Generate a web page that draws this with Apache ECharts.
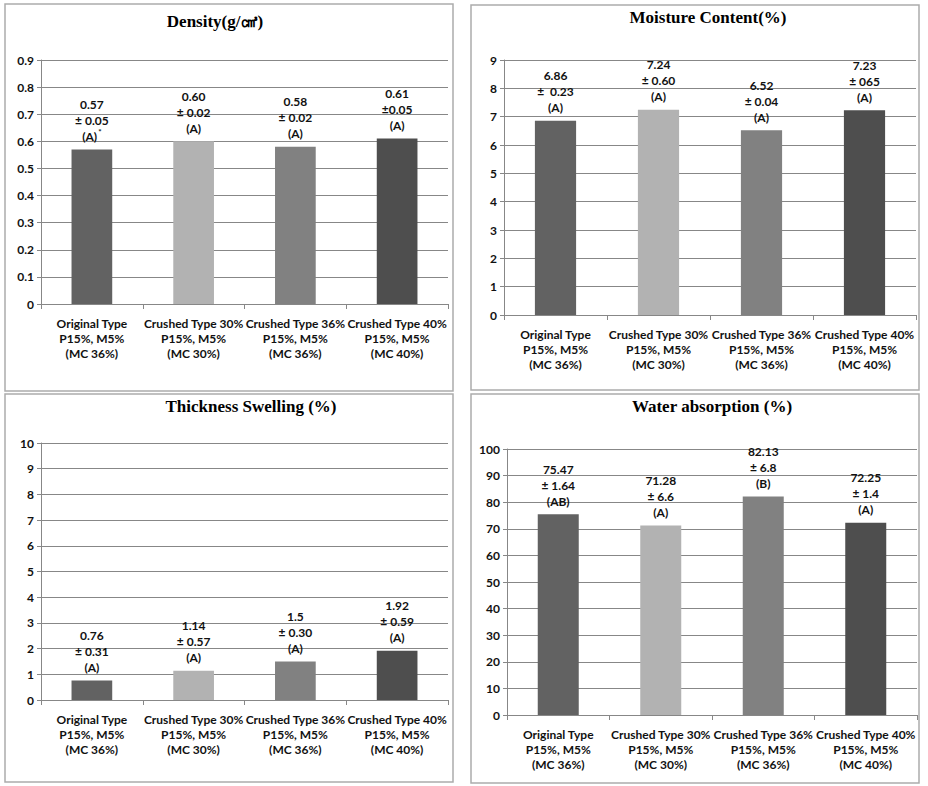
<!DOCTYPE html>
<html>
<head>
<meta charset="utf-8">
<script src="https://cdn.jsdelivr.net/npm/echarts@6/dist/echarts.min.js"></script>
<style>
html,body{margin:0;padding:0;background:#fff;}
#c{width:928px;height:786px;}
</style>
</head>
<body>
<div id="c"></div>
<script>
// ---- data ----
const categories = [
  "Original Type\nP15%, M5%\n(MC 36%)",
  "Crushed Type 30%\nP15%, M5%\n(MC 30%)",
  "Crushed Type 36%\nP15%, M5%\n(MC 36%)",
  "Crushed Type 40%\nP15%, M5%\n(MC 40%)"
];
const densityValues = [0.57, 0.60, 0.58, 0.61];
const densityLabels = ["0.57", "0.60", "0.58", "0.61"];
const densityErr = ["± 0.05", "± 0.02", "± 0.02", "±0.05"];
const densityGroup = ["(A)*", "(A)", "(A)", "(A)"];

const moistureValues = [6.86, 7.24, 6.52, 7.23];
const moistureLabels = ["6.86", "7.24", "6.52", "7.23"];
const moistureErr = ["±  0.23", "± 0.60", "± 0.04", "± 065"];
const moistureGroup = ["(A)", "(A)", "(A)", "(A)"];

const thicknessValues = [0.76, 1.14, 1.5, 1.92];
const thicknessLabels = ["0.76", "1.14", "1.5", "1.92"];
const thicknessErr = ["± 0.31", "± 0.57", "± 0.30", "± 0.59"];
const thicknessGroup = ["(A)", "(A)", "(A)", "(A)"];

const waterValues = [75.47, 71.28, 82.13, 72.25];
const waterLabels = ["75.47", "71.28", "82.13", "72.25"];
const waterErr = ["± 1.64", "± 6.6", "± 6.8", "± 1.4"];
const waterGroup = ["(AB)", "(A)", "(B)", "(A)"];

const titles = ["Density(g/㎤)", "Moisture Content(%)", "Thickness Swelling (%)", "Water absorption (%)"];
const yMax = [0.9, 9, 10, 100];
const yInterval = [0.1, 1, 1, 10];

// ---- styles ----
const barColors = ["#626262", "#b2b2b2", "#818181", "#4e4e4e"];
const gridColor = "#878787";
const SANS = "Lato, 'Open Sans', sans-serif";
const SERIF = "'Liberation Serif', 'DejaVu Serif', serif";

const grids = [
  {left: 41, top: 60, width: 407, height: 244},
  {left: 504, top: 60, width: 412, height: 255},
  {left: 41, top: 443, width: 407, height: 257},
  {left: 507, top: 449, width: 410, height: 266}
];
const panels = [
  {x: 5, y: 4, w: 448, h: 387},
  {x: 471, y: 5, w: 448, h: 385},
  {x: 5, y: 394, w: 448, h: 388},
  {x: 471, y: 394, w: 448, h: 389}
];
const titlePos = [[215, 21], [708, 17], [251, 406], [712, 406]];

const valueSets = [densityValues, moistureValues, thicknessValues, waterValues];
const labelSets = [densityLabels, moistureLabels, thicknessLabels, waterLabels];
const errSets = [densityErr, moistureErr, thicknessErr, waterErr];
const groupSets = [densityGroup, moistureGroup, thicknessGroup, waterGroup];

const chart = echarts.init(document.getElementById('c'), null, {renderer: 'svg'});

const xAxes = [], yAxes = [], series = [], graphics = [];
for (let i = 0; i < 4; i++) {
  xAxes.push({
    type: 'category', gridIndex: i, data: categories,
    axisLine: {show: true, lineStyle: {color: gridColor, width: 1}},
    axisTick: {show: true, length: 5, lineStyle: {color: gridColor}},
    axisLabel: {interval: 0, margin: 12, color: '#111', fontFamily: SANS, fontWeight: 'bold', fontSize: 12, lineHeight: 15}
  });
  yAxes.push({
    type: 'value', gridIndex: i, min: 0, max: yMax[i], interval: yInterval[i],
    axisLine: {show: true, lineStyle: {color: gridColor, width: 1}},
    axisTick: {show: true, length: 4, lineStyle: {color: gridColor}},
    splitLine: {show: true, lineStyle: {color: gridColor, width: 1}},
    axisLabel: {margin: 7, color: '#111', fontFamily: SANS, fontWeight: 'bold', fontSize: 12,
      formatter: v => (i === 0 ? (v === 0 ? '0' : v.toFixed(1)) : String(Math.round(v)))}
  });
  const vals = valueSets[i];
  series.push({
    type: 'bar', xAxisIndex: i, yAxisIndex: i, barWidth: '40%',
    data: vals.map((v, j) => ({value: v, itemStyle: {color: barColors[j]}})),
    label: {
      show: true, position: 'top', distance: 5,
      color: '#111', fontFamily: SANS, fontWeight: 'bold', fontSize: 12, lineHeight: 16,
      formatter: p => {
        const g = groupSets[i][p.dataIndex];
        const gtxt = g.endsWith('*') ? '{g|' + g.slice(0, -1) + '}{s|*}' : '{g|' + g + '}';
        return '{g|' + labelSets[i][p.dataIndex] + '}\n{g|' + errSets[i][p.dataIndex] + '}\n' + gtxt;
      },
      rich: {
        g: {color: '#111', fontFamily: SANS, fontWeight: 'bold', fontSize: 12, lineHeight: 16},
        s: {color: '#111', fontFamily: SANS, fontWeight: 'bold', fontSize: 8, lineHeight: 16, verticalAlign: 'top', padding: [0, 0, 6, 1]}
      }
    }
  });
  const p = panels[i];
  graphics.push({
    type: 'rect', z: -1, silent: true,
    shape: {x: p.x, y: p.y, width: p.w, height: p.h},
    style: {fill: '#fff', stroke: '#acacac', lineWidth: 1.5}
  });
  graphics.push({
    type: 'text', silent: true, x: titlePos[i][0], y: titlePos[i][1],
    style: {text: titles[i], fill: '#000', font: 'bold 17px ' + SERIF, textAlign: 'center', textVerticalAlign: 'middle'}
  });
}

chart.setOption({
  animation: false,
  backgroundColor: '#fff',
  grid: grids.map(g => Object.assign({containLabel: false}, g)),
  xAxis: xAxes,
  yAxis: yAxes,
  series: series,
  graphic: graphics
});
</script>
</body>
</html>
